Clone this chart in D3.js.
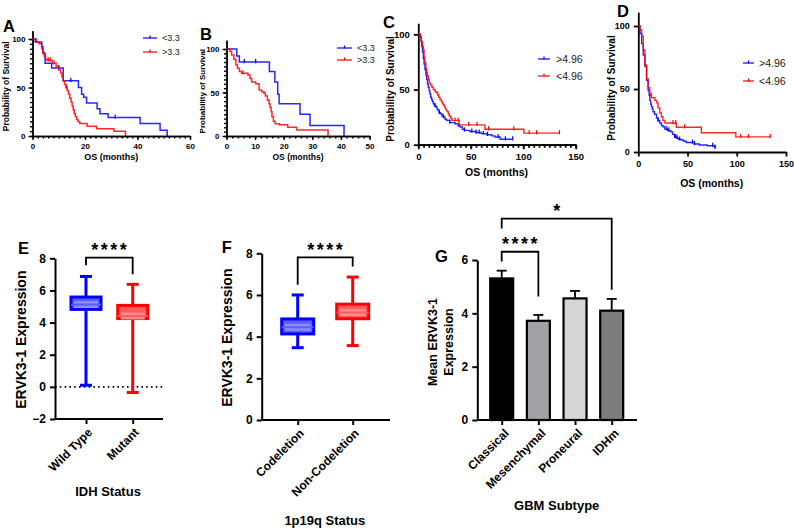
<!DOCTYPE html>
<html><head><meta charset="utf-8">
<script src="https://cdn.jsdelivr.net/npm/d3@7"></script>
<style>body{margin:0;background:#fff}svg{display:block;font-family:"Liberation Sans",Arial,sans-serif}</style>
</head><body><svg id="c" width="794" height="529"></svg>
<script>
// ---------- DATA ----------
// Kaplan-Meier step points [months, % survival]
const kmA_low  = [[0,100],[1,97],[3.5,92],[4,85],[4.8,75],[7.3,70],[11.7,57],[17.5,50],[18.7,43],[19.5,40],[20.6,34],[24.6,28],[25.7,23],[28.8,19],[41,13],[48.6,6],[51.3,0]];
const kmA_high = [[0,100],[1.5,97],[2.5,95],[3.5,90],[4,86],[4.5,82],[5,79],[5.5,78],[7.5,75],[9,72],[10,68],[10.7,65],[11.2,61],[11.7,57],[12.2,53],[12.7,50],[13.2,47],[13.7,43],[14.2,39],[14.7,35],[15.1,31],[15.5,27],[15.9,23],[16.3,20],[16.8,17],[17.3,15],[18,13],[20.8,10],[24.4,7.5],[31,5],[35.4,0]];
const censA_low = [10,14.6,31.5];
const censA_high = [6,6.7,8.2,13];

const kmB_low  = [[0,100],[3.6,92],[4.5,85],[15,74],[16.9,62],[17.9,48],[18.4,37],[25.7,25],[29.2,12],[41.1,0]];
const kmB_high = [[0,100],[1.2,97],[1.8,93],[2.6,88],[3.3,82],[3.8,78],[4.5,74],[5.3,72],[7.5,70],[8.2,66],[8.8,62],[10.2,60],[11.4,53],[12.3,51],[13.1,49],[13.6,46],[14.3,41],[14.9,37],[15.2,33],[15.6,28],[15.9,22],[16.4,17],[17,14],[18.5,13],[21.4,10],[24.5,7],[35.5,0]];
const censB_low = [6.2,10.2];
const censB_high = [5.8];

const kmC_high = [[0,100],[1.6,98],[2.5,94],[3.2,89],[4,84],[4.8,78],[5.5,73],[6.3,68],[7.2,63],[8,59],[8.8,55],[9.5,52],[10.3,49],[11,46],[11.8,43],[12.7,41],[13.5,39],[14.3,37],[15.5,35],[17,34],[18,32],[19,31],[20,29],[21,28],[22.5,26],[24,25],[25.5,23],[27,22],[30,20],[35,19],[38,17],[40,16],[42,14],[44,13],[49,12],[55,11],[60,10],[65,9],[70,8],[73,7],[78,5],[90,5]];
const kmC_low  = [[0,100],[2,97],[3,93],[4,89],[4.8,86],[5.5,80],[6.3,74],[7.2,69],[8,65],[8.8,62],[9.5,59],[10.5,56],[11.7,54],[13,52],[14.3,50],[16,48],[17.5,47],[18.5,45],[19.5,43],[20.6,41],[22,39],[23,37],[24,36],[25,34],[26,32],[27.3,30],[28.6,28],[29.5,26],[31,24],[32,22],[39,18],[63.5,14],[100.6,10.5],[135,10.5]];
const censC_high = [16,20,24,30,44,51,55,58,62,66,76,83,90];
const censC_low = [35,38,48,56,67,91,105.7,112.7,134.5];

const kmD_high = [[0,100],[1.7,94],[3.4,86],[5,77],[6.7,68],[8.4,57],[10,49],[11,45],[11.7,41],[12.5,38],[13.4,36],[14.2,34],[15,32],[16.5,30],[18.5,27],[20,25],[21.8,23],[23.5,21],[25,20],[27,18],[30,17],[33,16],[35,14],[37,12],[38.6,11],[41,10],[43.6,9.5],[46,8.5],[48.7,7.5],[57,6.3],[62,5.5],[70,5],[77.5,3.5],[78.5,3.5]];
const kmD_low  = [[0,100],[1.7,97],[3.4,92],[5,81],[6.7,69],[8.4,58],[10,51],[11.7,45],[13.4,43],[16.8,41],[18.5,39],[20,35],[21.8,31],[23.5,28],[25,25],[27,23],[38.6,19.6],[64,15.3],[99,12],[134,12]];
const censD_high = [20,29,31,37,38,39.5,42,55,57,75.5,78];
const censD_low = [13,35.2,38,47,104,111.7,134];

const legendAB = ["<3.3", ">3.3"];
const legendCD = [">4.96", "<4.96"];
const ticksA = [0,20,40,60], ticksB = [0,10,20,30,40,50], ticksCD = [0,50,100,150], ticksSurv = [0,50,100];

// Box plots
const idhGroups = ["Wild Type","Mutant"];
const idhMin = [0.1,-0.35], idhQ1 = [4.82,4.25], idhMed = [5.12,4.41], idhQ3 = [5.59,5.07], idhMax = [6.87,6.38];
const codelGroups = ["Codeletion","Non-Codeletion"];
const codelMin = [3.47,3.57], codelQ1 = [4.13,4.86], codelMed = [4.45,5.16], codelQ3 = [4.85,5.56], codelMax = [6.0,6.86];
const ticksE = [-2,0,2,4,6,8], ticksF = [0,2,4,6,8];

// Bar chart
const subtypes = ["Classical","Mesenchymal","Proneural","IDHm"];
const subMean = [5.31,3.72,4.56,4.1];
const subSem = [0.29,0.22,0.28,0.44];
const subColors = ["#000000","#a2a2a4","#d6d6d6","#7d7d7d"];
const ticksG = [0,2,4,6];

// ---------- DRAWING ----------
const svg = d3.select("#c");
svg.append("rect").attr("width",794).attr("height",529).attr("fill","#fff");
const BLUE = "#0000ff", RED = "#ff0000";
const fmt = d3.format("d");

function txt(x, y, s, o = {}) {
  const t = svg.append("text").attr("x", x).attr("y", y).text(s)
    .attr("font-size", o.size || 12).attr("font-weight", o.weight || "bold")
    .attr("text-anchor", o.anchor || "start").attr("fill", o.fill || "#000");
  if (o.rotate) t.attr("transform", `rotate(${o.rotate},${x},${y})`);
  if (o.ls) t.attr("letter-spacing", o.ls);
  return t;
}

function styleAxis(g, sw, fs) {
  g.select(".domain").attr("stroke", "#000").attr("stroke-width", sw);
  g.selectAll(".tick line").attr("stroke", "#000").attr("stroke-width", sw);
  g.selectAll(".tick text").attr("font-size", fs).attr("font-weight", "bold")
    .attr("font-family", "Liberation Sans, Arial, sans-serif").attr("fill", "#000");
}

function survAt(curve, t) {
  let s = curve[0][1];
  for (const p of curve) { if (p[0] <= t) s = p[1]; }
  return s;
}

function km(p) {
  const x = d3.scaleLinear().domain([0, p.xMax]).range([p.x0, p.x1]);
  const yTop = p.y0 - (p.y0 - p.y100) * p.yMaxVal / 100;
  const y = d3.scaleLinear().domain([0, p.yMaxVal]).range([p.y0, yTop]);
  const g = svg.append("g");
  if (p.xMinor) {
    const gm = g.append("g").attr("transform", `translate(0,${p.y0})`)
      .call(d3.axisBottom(x).tickValues(d3.range(0, p.xMax + 1e-6, p.xMinor)).tickSize(p.minorLen).tickFormat("").tickSizeOuter(0));
    styleAxis(gm, p.sw, p.fs);
  }
  if (p.yMinor) {
    const gm = g.append("g").attr("transform", `translate(${p.x0},0)`)
      .call(d3.axisLeft(y).tickValues(d3.range(0, 100 + 1e-6, p.yMinor)).tickSize(p.minorLen).tickFormat("").tickSizeOuter(0));
    styleAxis(gm, p.sw, p.fs);
  }
  const gx = g.append("g").attr("transform", `translate(0,${p.y0})`)
    .call(d3.axisBottom(x).tickValues(p.xTicks).tickFormat(fmt).tickSize(p.majorLen).tickSizeOuter(0).tickPadding(p.pad));
  styleAxis(gx, p.sw, p.fs);
  const gy = g.append("g").attr("transform", `translate(${p.x0},0)`)
    .call(d3.axisLeft(y).tickValues(ticksSurv).tickFormat(fmt).tickSize(p.majorLen).tickSizeOuter(0).tickPadding(p.pad));
  styleAxis(gy, p.sw, p.fs);
  const line = d3.line().x(d => x(d[0])).y(d => y(d[1])).curve(d3.curveStepAfter);
  p.series.forEach(s => {
    g.append("path").datum(s.data).attr("d", line).attr("fill", "none")
      .attr("stroke", s.color).attr("stroke-width", p.lw).attr("stroke-opacity", 0.85);
    g.selectAll(null).data(s.cens).enter().append("line")
      .attr("x1", t => x(t)).attr("x2", t => x(t))
      .attr("y1", t => y(survAt(s.data, t)) - p.cens).attr("y2", t => y(survAt(s.data, t)) + p.cens * 0.4)
      .attr("stroke", s.color).attr("stroke-width", 1.2);
  });
  // legend
  p.series.forEach((s, i) => {
    const ly = p.legY[i];
    g.append("line").attr("x1", p.legX).attr("x2", p.legX + p.legLen).attr("y1", ly).attr("y2", ly)
      .attr("stroke", s.color).attr("stroke-width", 1.2);
    g.append("line").attr("x1", p.legX + p.legLen / 2).attr("x2", p.legX + p.legLen / 2)
      .attr("y1", ly - 2.5).attr("y2", ly + 0.5).attr("stroke", s.color).attr("stroke-width", 1.2);
    txt(p.legX + p.legLen + p.legGap, ly + p.legFs * 0.35, s.name, { size: p.legFs, weight: "normal", fill: "#222" });
  });
  // titles
  txt(p.ylx, (p.y0 + yTop) / 2 + p.ylShift, "Probability of Survival", { size: p.tfs, anchor: "middle", rotate: -90 });
  txt((p.x0 + p.x1) / 2 + p.xlShift, p.xly, "OS (months)", { size: p.tfs + 0.5, anchor: "middle" });
  txt(p.lx, p.ly, p.letter, { size: 16.5 });
}

km({ letter: "A", lx: 3, ly: 32, x0: 32.5, x1: 190, xMax: 60, y0: 136, y100: 39, yMaxVal: 108.5,
  xTicks: ticksA, xMinor: 2, yMinor: 5, minorLen: 2.5, majorLen: 4, pad: 3, sw: 1.4, fs: 8, lw: 1.5, cens: 3,
  series: [{ name: legendAB[0], data: kmA_low, cens: censA_low, color: BLUE },
           { name: legendAB[1], data: kmA_high, cens: censA_high, color: RED }],
  legX: 143, legLen: 14, legGap: 5, legY: [38, 52], legFs: 9,
  ylx: 9.5, ylShift: 3, tfs: 8.5, xly: 160, xlShift: 0 });

km({ letter: "B", lx: 200, ly: 40, x0: 226.5, x1: 369.5, xMax: 50, y0: 136, y100: 49, yMaxVal: 110,
  xTicks: ticksB, xMinor: 2, yMinor: 5, minorLen: 2.5, majorLen: 4, pad: 3, sw: 1.4, fs: 8, lw: 1.5, cens: 3,
  series: [{ name: legendAB[0], data: kmB_low, cens: censB_low, color: BLUE },
           { name: legendAB[1], data: kmB_high, cens: censB_high, color: RED }],
  legX: 337, legLen: 15, legGap: 5, legY: [48, 60], legFs: 9,
  ylx: 205, ylShift: 3, tfs: 8, xly: 160, xlShift: 0 });

km({ letter: "C", lx: 383, ly: 28, x0: 418.3, x1: 575.7, xMax: 150, y0: 144.7, y100: 34.3, yMaxVal: 110,
  xTicks: ticksCD, xMinor: 5, yMinor: 0, minorLen: 3, majorLen: 4.5, pad: 4, sw: 1.8, fs: 9.5, lw: 1.4, cens: 3,
  series: [{ name: legendCD[0], data: kmC_high, cens: censC_high, color: BLUE },
           { name: legendCD[1], data: kmC_low, cens: censC_low, color: RED }],
  legX: 538, legLen: 12, legGap: 6, legY: [59, 76], legFs: 10.5,
  ylx: 394, ylShift: 5, tfs: 10, xly: 176, xlShift: -0.5 });

km({ letter: "D", lx: 617, ly: 17, x0: 638.3, x1: 786, xMax: 150, y0: 152, y100: 26, yMaxVal: 111,
  xTicks: ticksCD, xMinor: 0, yMinor: 0, minorLen: 3, majorLen: 4.5, pad: 4, sw: 1.8, fs: 9, lw: 1.4, cens: 3,
  series: [{ name: legendCD[0], data: kmD_high, cens: censD_high, color: BLUE },
           { name: legendCD[1], data: kmD_low, cens: censD_low, color: RED }],
  legX: 743, legLen: 11, legGap: 5, legY: [63, 81], legFs: 10.5,
  ylx: 615, ylShift: 6, tfs: 10, xly: 187, xlShift: -0.5 });

// ---------- Box plots ----------
function boxPanel(p) {
  const y = d3.scaleLinear().domain([p.yMin, p.yMax]).range([p.yB, p.yT]);
  const x = d3.scalePoint().domain(p.groups).range([p.c0, p.c1]);
  const g = svg.append("g");
  const gy = g.append("g").attr("transform", `translate(${p.x0},0)`)
    .call(d3.axisLeft(y).tickValues(p.ticks).tickFormat(fmt).tickSize(5).tickSizeOuter(0).tickPadding(4));
  styleAxis(gy, 2, 12);
  const gx = g.append("g").attr("transform", `translate(0,${p.yB})`)
    .call(d3.axisBottom(x).tickSize(5).tickSizeOuter(0).tickFormat(""));
  gx.select(".domain").attr("d", `M${p.x0},0H${p.x1}`);
  styleAxis(gx, 2, 12);
  if (p.zeroLine) {
    g.append("line").attr("x1", p.x0).attr("x2", p.x1).attr("y1", y(0)).attr("y2", y(0))
      .attr("stroke", "#000").attr("stroke-width", 1.6).attr("stroke-dasharray", "1.6,3.2");
  }
  p.groups.forEach((grp, i) => {
    const cx = x(grp), col = p.colors[i], fill = p.fills[i], light = p.lights[i];
    const hw = p.boxW / 2, cw = p.capW / 2;
    g.append("line").attr("x1", cx).attr("x2", cx).attr("y1", y(p.max[i])).attr("y2", y(p.q3[i])).attr("stroke", col).attr("stroke-width", 3);
    g.append("line").attr("x1", cx).attr("x2", cx).attr("y1", y(p.q1[i])).attr("y2", y(p.min[i])).attr("stroke", col).attr("stroke-width", 3);
    g.append("line").attr("x1", cx - cw).attr("x2", cx + cw).attr("y1", y(p.max[i])).attr("y2", y(p.max[i])).attr("stroke", col).attr("stroke-width", 3);
    g.append("line").attr("x1", cx - cw).attr("x2", cx + cw).attr("y1", y(p.min[i])).attr("y2", y(p.min[i])).attr("stroke", col).attr("stroke-width", 3);
    g.append("rect").attr("x", cx - hw).attr("width", p.boxW).attr("y", y(p.q3[i])).attr("height", y(p.q1[i]) - y(p.q3[i]))
      .attr("fill", fill).attr("stroke", col).attr("stroke-width", 3);
    g.append("rect").attr("x", cx - hw + 3).attr("width", p.boxW - 6).attr("y", y(p.med[i]) - 3.5).attr("height", 7)
      .attr("fill", light);
    g.append("line").attr("x1", cx - hw).attr("x2", cx + hw).attr("y1", y(p.med[i])).attr("y2", y(p.med[i])).attr("stroke", fill).attr("stroke-width", 2);
    g.append("text").attr("transform", `translate(${cx + 4},${p.yB + 11}) rotate(-45)`)
      .attr("text-anchor", "end").attr("dy", "0.35em").attr("font-size", 12).attr("font-weight", "bold").text(grp);
  });
  // significance bracket
  const b = p.bracket, xa = x(p.groups[0]), xb = x(p.groups[1]);
  g.append("path").attr("d", `M${xa},${y(b[1])}V${y(b[0])}H${xb}V${y(b[2])}`)
    .attr("fill", "none").attr("stroke", "#000").attr("stroke-width", 1.8);
  txt((xa + xb) / 2 + 1, y(b[0]) - 1.5, "****", { size: 18, anchor: "middle", ls: 2.5 });
  txt(p.ylx, (p.yB + p.yT) / 2 + 1, "ERVK3-1 Expression", { size: 14, anchor: "middle", rotate: -90 });
  txt((p.x0 + p.x1) / 2 + p.xtShift, p.xty, p.xTitle, { size: 13, anchor: "middle" });
  txt(p.lx, p.ly, p.letter, { size: 16.5 });
}

boxPanel({ letter: "E", lx: 18, ly: 253.5, groups: idhGroups, min: idhMin, q1: idhQ1, med: idhMed, q3: idhQ3, max: idhMax,
  yMin: -2, yMax: 8, yB: 419, yT: 258.3, x0: 55, x1: 163, c0: 86, c1: 132.7, ticks: ticksE, zeroLine: true,
  colors: [BLUE, RED], fills: ["#5c5cff", "#ff5c5c"], lights: ["#8d8dff", "#ff8d8d"], boxW: 30, capW: 12,
  bracket: [8.04, 7.56, 7.0], ylx: 26, xTitle: "IDH Status", xty: 496, xtShift: -1 });

boxPanel({ letter: "F", lx: 221.7, ly: 253, groups: codelGroups, min: codelMin, q1: codelQ1, med: codelMed, q3: codelQ3, max: codelMax,
  yMin: 0, yMax: 8, yB: 420, yT: 253.3, x0: 261.7, x1: 390, c0: 297.7, c1: 352.7, ticks: ticksF, zeroLine: false,
  colors: [BLUE, RED], fills: ["#5c5cff", "#ff5c5c"], lights: ["#8d8dff", "#ff8d8d"], boxW: 32, capW: 12,
  bracket: [7.8, 6.49, 7.37], ylx: 232.5, xTitle: "1p19q Status", xty: 524.5, xtShift: -1 });

// ---------- Bar chart G ----------
(function () {
  const y = d3.scaleLinear().domain([0, 6]).range([420, 260]);
  const x = d3.scalePoint().domain(subtypes).range([501.7, 611.7]);
  const g = svg.append("g");
  const bw = 23;
  subtypes.forEach((s, i) => {
    const cx = x(s);
    g.append("line").attr("x1", cx).attr("x2", cx).attr("y1", y(subMean[i])).attr("y2", y(subMean[i] + subSem[i]))
      .attr("stroke", "#000").attr("stroke-width", 1.8);
    g.append("line").attr("x1", cx - 5).attr("x2", cx + 5).attr("y1", y(subMean[i] + subSem[i])).attr("y2", y(subMean[i] + subSem[i]))
      .attr("stroke", "#000").attr("stroke-width", 1.8);
    g.append("rect").attr("x", cx - bw / 2).attr("width", bw).attr("y", y(subMean[i])).attr("height", y(0) - y(subMean[i]))
      .attr("fill", subColors[i]).attr("stroke", "#000").attr("stroke-width", 2.2);
    g.append("text").attr("transform", `translate(${cx + 5},${431}) rotate(-45)`)
      .attr("text-anchor", "end").attr("dy", "0.35em").attr("font-size", 12).attr("font-weight", "bold").text(s);
  });
  const gy = g.append("g").attr("transform", "translate(477.3,0)")
    .call(d3.axisLeft(y).tickValues(ticksG).tickFormat(fmt).tickSize(5).tickSizeOuter(0).tickPadding(4));
  styleAxis(gy, 2, 12);
  const gx = g.append("g").attr("transform", "translate(0,420)")
    .call(d3.axisBottom(x).tickSize(5).tickSizeOuter(0).tickFormat(""));
  gx.select(".domain").attr("d", "M477.3,0H637");
  styleAxis(gx, 2, 12);
  const xa = x("Classical"), xm = x("Mesenchymal"), xi = x("IDHm");
  g.append("path").attr("d", `M${xa},${y(5.94)}V${y(6.31)}H${xm}V${y(4.63)}`).attr("fill", "none").attr("stroke", "#000").attr("stroke-width", 1.8);
  g.append("path").attr("d", `M${xa},${y(7.18)}V${y(7.55)}H${xi}V${y(4.88)}`).attr("fill", "none").attr("stroke", "#000").attr("stroke-width", 1.8);
  txt((xa + xm) / 2 + 1, y(6.31) - 1.5, "****", { size: 18, anchor: "middle", ls: 2.5 });
  txt((xa + xi) / 2, y(7.55) - 1.5, "*", { size: 18, anchor: "middle" });
  txt(437, 342, "Mean ERVK3-1", { size: 12.5, anchor: "middle", rotate: -90 });
  txt(453, 342, "Expression", { size: 12.5, anchor: "middle", rotate: -90 });
  txt(556.7, 509.5, "GBM Subtype", { size: 13, anchor: "middle" });
  txt(435, 262, "G", { size: 16.5 });
})();
</script></body></html>
